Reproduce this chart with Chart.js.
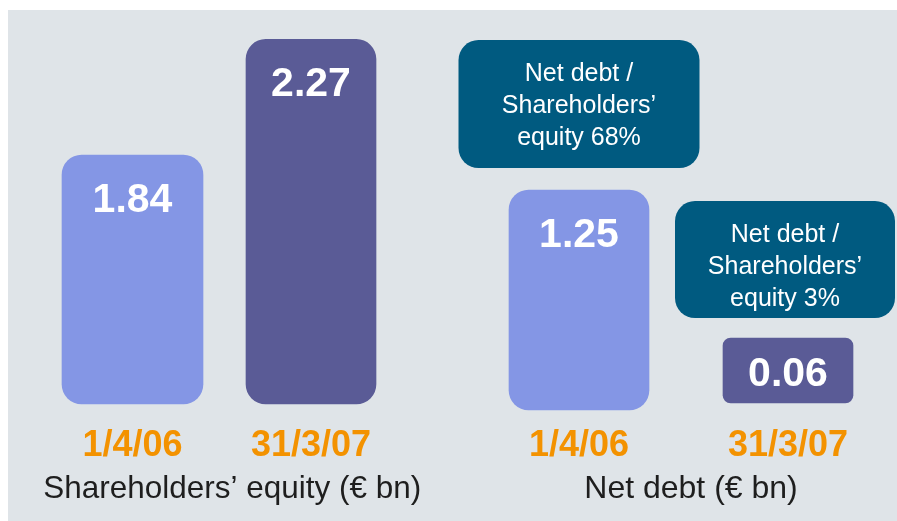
<!DOCTYPE html>
<html><head><meta charset="utf-8">
<script src="https://cdn.jsdelivr.net/npm/chart.js@4.4.0/dist/chart.umd.min.js"></script>
<style>
html,body{margin:0;padding:0;background:#fff;width:897px;height:521px;overflow:hidden;position:relative}
#bg{position:absolute;left:8px;top:10px;width:889px;height:511px;background:#dfe4e8}
#c1{position:absolute;left:0;top:0}
#c2{position:absolute;left:450px;top:0}
</style></head><body>
<div id="bg"></div>
<canvas id="c1" width="450" height="521"></canvas>
<canvas id="c2" width="460" height="521"></canvas>
<script>
// ---- data ----
const dates = ['1/4/06', '31/3/07'];
const equityValues = [1.84, 2.27];
const netDebtValues = [1.25, 0.06];
const gearingPct = [68, 3];
const groupLabels = ['Shareholders\u2019 equity (\u20ac bn)', 'Net debt (\u20ac bn)'];

// ---- styles ----
const FONT = "'Liberation Sans', Arial, sans-serif";
const LIGHT = '#8496e5', DARK = '#5a5b96', ORANGE = '#f39200', TEAL = '#005a80', INK = '#1e1e1e';
Chart.defaults.font.family = FONT;

const valueLabels = {
  id: 'valueLabels',
  afterDatasetsDraw(chart) {
    const ctx = chart.ctx;
    ctx.save();
    ctx.fillStyle = '#fff';
    ctx.font = 'bold 41px ' + FONT;
    ctx.textAlign = 'center';
    ctx.textBaseline = 'alphabetic';
    chart.data.datasets.forEach((ds, di) => {
      chart.getDatasetMeta(di).data.forEach((el, i) => {
        const v = ds.data[i];
        if (v == null) return;
        const y = Math.min(el.y + 57, (el.y + el.base) / 2 + 15);
        ctx.fillText(v.toFixed(2), el.x, y);
      });
    });
    ctx.restore();
  }
};

const callouts = {
  id: 'callouts',
  afterDatasetsDraw(chart, args, opts) {
    if (!opts.items) return;
    const ctx = chart.ctx;
    ctx.save();
    opts.items.forEach((c, k) => {
      const el = chart.getDatasetMeta(k).data[k];
      const bottom = el.y - c.gap;
      const top = bottom - c.h;
      const cx = el.x + c.dx;
      ctx.beginPath();
      ctx.roundRect(cx - c.w / 2, top, c.w, c.h, 20);
      ctx.fillStyle = TEAL;
      ctx.fill();
      ctx.fillStyle = '#fff';
      ctx.font = '25px ' + FONT;
      ctx.textAlign = 'center';
      ctx.textBaseline = 'alphabetic';
      const lines = ['Net debt /', 'Shareholders\u2019', 'equity ' + gearingPct[k] + '%'];
      lines.forEach((t, li) => ctx.fillText(t, cx, top + 41 + li * 32));
    });
    ctx.restore();
  }
};

function oneHot(values, i) { return values.map((v, j) => (j === i ? v : null)); }

function xScale() {
  return {
    type: 'category', offset: true,
    grid: { display: false }, border: { display: false },
    ticks: { color: ORANGE, font: { size: 36, weight: 'bold' }, padding: 12.4, maxRotation: 0, minRotation: 0, autoSkip: false },
    afterFit(s) { s.height = 66; }
  };
}
function yScale(min, max, w) {
  return {
    position: 'right', min: min, max: max,
    ticks: { display: false }, grid: { display: false }, border: { display: false },
    afterFit(s) { s.width = w; }
  };
}
function titleOpts(text) {
  return { display: true, position: 'bottom', text: text, color: INK, font: { size: 32, weight: 'normal' }, padding: 0 };
}

const EQ_MIN = 0.915, ND_MIN = -0.47;

new Chart(document.getElementById('c1'), {
  type: 'bar',
  data: {
    labels: dates,
    datasets: [
      { data: oneHot(equityValues, 0), backgroundColor: LIGHT, barThickness: 141, borderRadius: 20, borderSkipped: false, base: EQ_MIN, grouped: false, clip: false },
      { data: oneHot(equityValues, 1), backgroundColor: DARK, barThickness: 130, borderRadius: 20, borderSkipped: false, base: EQ_MIN, grouped: false, clip: false }
    ]
  },
  options: {
    responsive: false, animation: false,
    layout: { padding: { left: 43.25, right: 28.75, top: 34, bottom: 12.6 } },
    scales: { x: xScale(), y: yScale(EQ_MIN, 2.29, 21) },
    plugins: { legend: { display: false }, tooltip: { enabled: false }, title: titleOpts(groupLabels[0]) }
  },
  plugins: [valueLabels]
});

new Chart(document.getElementById('c2'), {
  type: 'bar',
  data: {
    labels: dates,
    datasets: [
      { data: oneHot(netDebtValues, 0), backgroundColor: LIGHT, barThickness: 140, borderRadius: 20, borderSkipped: false, base: -0.5186, grouped: false, clip: false },
      { data: oneHot(netDebtValues, 1), backgroundColor: DARK, barThickness: 130, borderRadius: 8, borderSkipped: false, base: -0.4623, grouped: false, clip: false }
    ]
  },
  options: {
    responsive: false, animation: false,
    layout: { padding: { left: 24.5, right: 2.5, top: 34, bottom: 12.6 } },
    scales: { x: xScale(), y: yScale(ND_MIN, 2.505, 15) },
    plugins: {
      legend: { display: false }, tooltip: { enabled: false }, title: titleOpts(groupLabels[1]),
      callouts: { items: [ { w: 241, h: 128, gap: 22, dx: 0 }, { w: 220, h: 117, gap: 20, dx: -3 } ] }
    }
  },
  plugins: [valueLabels, callouts]
});
</script>
</body></html>
